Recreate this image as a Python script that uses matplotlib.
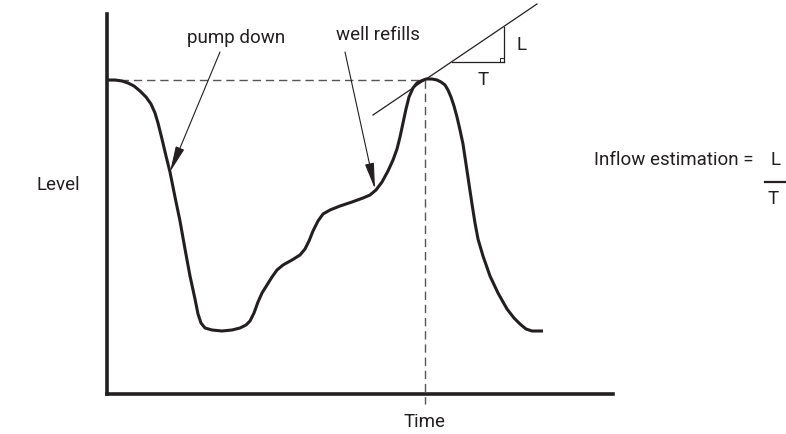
import matplotlib
matplotlib.use("Agg")
import matplotlib.pyplot as plt
from matplotlib.patches import Rectangle

plt.rcParams['font.family'] = ['Roboto', 'DejaVu Sans']

# level vs. time for one pump-down / refill cycle
time = [0, 8, 15, 21, 27, 33, 39, 44, 48, 51, 55, 59, 63, 68, 73, 78, 83, 88,
        91, 94, 98, 105, 115, 125, 133, 139, 143, 147, 151, 155, 160, 165, 170,
        176, 185, 193, 198, 202, 206, 211, 216, 223, 233, 245, 256, 263, 269,
        275, 281, 286, 290, 293, 296, 299, 302, 306, 310, 314, 319, 325, 330,
        334, 338, 341, 344, 347, 350, 353, 356, 359, 362, 365, 368, 371, 376,
        383, 391, 400, 407, 413, 419, 425, 436]
level = [314, 314, 313, 311, 308, 303, 297, 290, 281, 271, 255, 238, 222, 197,
         173, 145, 118, 95, 80, 71, 66, 64, 63, 64, 66, 69, 73, 81, 92, 101,
         109, 117, 124, 129, 134, 139, 145, 153, 163, 173, 180, 184, 188, 192,
         196, 199, 204, 212, 223, 234, 245, 257, 271, 285, 297, 306, 311, 313,
         315, 315, 314, 312, 309, 304, 297, 288, 277, 264, 250, 230, 210, 190,
         171, 155, 138, 118, 101, 85, 76, 70, 65, 63, 63]

peak_t, peak_level = 318, 314
axis_t_max, axis_level_max = 506, 380

# tangent at the refill peak and its L/T triangle
tangent_t = [266, 430]
tangent_level = [279, 390]
tri_t = [345, 397]
tri_level = [332, 367]

arrow_pump = dict(text=(113, 342), tip=(63, 222))
arrow_refill = dict(text=(238, 342), tip=(268, 205))

ink = '#231f20'
dash_col = '#555555'
fs = 13.5

fig = plt.figure(figsize=(7.86, 4.35), dpi=100)
ax = fig.add_axes([0, 0, 1, 1])
ax.set_xlim(-107, 679)
ax.set_ylim(-40, 395)
ax.axis('off')

# axes of the sketch
ax.plot([0, 0], [0, axis_level_max], color=ink, lw=2.6, solid_capstyle='projecting')
ax.plot([0, axis_t_max], [0, 0], color=ink, lw=2.6, solid_capstyle='projecting')

# reference dashes through the peak
ax.plot([0, peak_t], [peak_level, peak_level], color=dash_col, lw=1.0, dashes=(6, 3.5))
ax.plot([peak_t, peak_t], [peak_level, -10], color=dash_col, lw=1.0, dashes=(6, 3.5))

ax.plot(time, level, color=ink, lw=2.2, solid_joinstyle='round', solid_capstyle='butt')

ax.plot(tangent_t, tangent_level, color=ink, lw=0.9)
ax.plot(tri_t, [tri_level[0], tri_level[0]], color=ink, lw=0.9)
ax.plot([tri_t[1], tri_t[1]], tri_level, color=ink, lw=0.9)
ax.add_patch(Rectangle((tri_t[1] - 4, tri_level[0]), 4, 4, fill=False, ec=ink, lw=0.7))
ax.text(tri_t[1] + 18, 350, 'L', fontsize=fs, ha='center', va='center', color=ink)
ax.text(tri_t[1] - 21, 315, 'T', fontsize=fs, ha='center', va='center', color=ink)

arrow_style = dict(arrowstyle='-|>,head_length=1.6,head_width=0.28', color=ink, lw=0.8,
                   shrinkA=0, shrinkB=0, mutation_scale=10)
for arr in (arrow_pump, arrow_refill):
    ax.annotate('', xy=arr['tip'], xytext=arr['text'], arrowprops=arrow_style)

ax.text(129, 357, 'pump down', fontsize=fs, ha='center', va='center', color=ink)
ax.text(271, 360, 'well refills', fontsize=fs, ha='center', va='center', color=ink)
ax.text(-49, 210, 'Level', fontsize=fs, ha='center', va='center', color=ink)
ax.text(318, -27, 'Time', fontsize=fs, ha='center', va='center', color=ink)

# inflow = L / T
ax.text(646, 235, 'Inflow estimation =', fontsize=fs, ha='right', va='center', color=ink)
ax.text(668, 235, 'L', fontsize=fs, ha='center', va='center', color=ink)
ax.plot([658, 679], [212, 212], color=ink, lw=1.6)
ax.text(666, 196, 'T', fontsize=fs, ha='center', va='center', color=ink)

fig.savefig('out.png', dpi=100)
